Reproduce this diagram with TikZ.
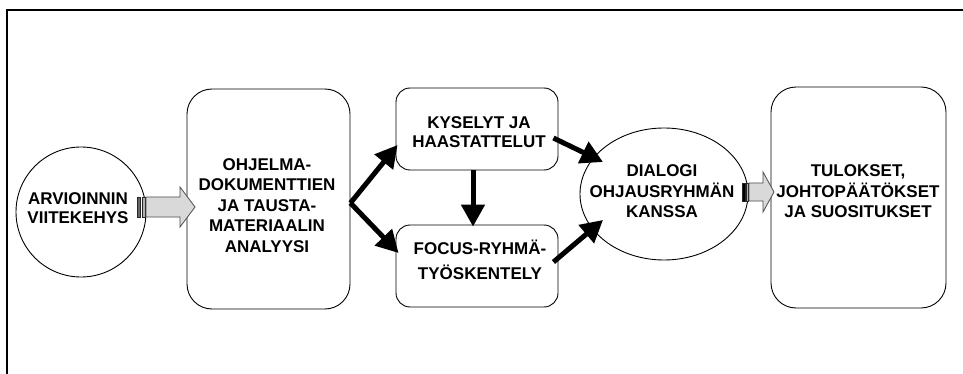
\documentclass[tikz,border=0pt]{standalone}
\usepackage{fontspec}
\setmainfont{Liberation Sans}
\usetikzlibrary{shapes.geometric,arrows.meta,calc}
\begin{document}
\begin{tikzpicture}[x=1pt,y=-1pt,
  shp/.style={draw=black,line width=0.9pt,inner sep=0pt},
  rbox/.style={shp,rectangle,rounded corners=#1},
  txt/.style={align=center,inner sep=0pt,font=\fontsize{17}{20.5}\selectfont\bfseries},
  bigarrow/.style={line width=5pt,-{Triangle[length=22pt,width=23pt]}},
  hollow/.style={fill=black!15,draw=black!70,line width=0.8pt},
  stripe/.style={fill=black!60,draw=black!85,line width=0.6pt}
]
\useasboundingbox (0,0) rectangle (963,374);
\draw[line width=2pt] (963,10) -- (7,10) -- (7,374);

% shapes
\node[shp,circle,minimum size=130pt] (frame) at (81,212) {};
\node[rbox=25pt,minimum width=163pt,minimum height=220pt] (anal) at (268.5,199) {};
\node[rbox=14pt,minimum width=162pt,minimum height=82pt] (kys) at (477,129) {};
\node[rbox=14pt,minimum width=162pt,minimum height=82pt] (foc) at (477,266) {};
\node[shp,ellipse,minimum width=168pt,minimum height=132pt] (dia) at (664,194) {};
\node[rbox=25pt,minimum width=175pt,minimum height=221pt] (res) at (858.5,197.5) {};

% texts
\node[txt,font=\fontsize{17}{18.3}\selectfont\bfseries] (t1) at (78,208) {ARVIOINNIN\\VIITEKEHYS};
\node[txt] (t2) at (267,205.5) {OHJELMA-\\DOKUMENTTIEN\\JA TAUSTA-\\MATERIAALIN\\ANALYYSI};
\node[txt,font=\fontsize{17}{19}\selectfont\bfseries] (t3) at (479,132.5) {KYSELYT JA\\HAASTATTELUT};
\node[txt,font=\fontsize{17}{25}\selectfont\bfseries] (t4) at (480,259.5) {FOCUS-RYHMÄ-\\TYÖSKENTELY};
\node[txt] (t5) at (662,191.5) {DIALOGI\\OHJAUSRYHMÄN\\KANSSA};
\node[txt] (t6) at (858,191.5) {TULOKSET,\\JOHTOPÄÄTÖKSET\\JA SUOSITUKSET};

% striped block arrows
\draw[stripe] (137,197) rectangle (140,217);
\draw[stripe,fill=black!30] (142.5,197) rectangle (145,217);
\draw[hollow] (146,197) -- (180,197) -- (180,187) -- (195,207) -- (180,227) -- (180,217) -- (146,217) -- cycle;

\draw[stripe,fill=black] (742,183) rectangle (745,201);
\draw[stripe,fill=black!30] (746.5,183) rectangle (748.5,201);
\draw[hollow] (749,183) -- (763,183) -- (763,172) -- (774,192) -- (763,212) -- (763,201) -- (749,201) -- cycle;

% black arrows
\coordinate (br) at ($(anal.east)+(0,4)$);
\draw[bigarrow] (br) -- ($(kys.west)+(2,16)$);
\draw[bigarrow] (br) -- ($(foc.west)+(3,-13)$);
\draw[bigarrow] ($(kys.south)+(-4,0)$) -- ($(foc.north)+(-4,2)$);
\draw[bigarrow] ($(kys.east)+(-5,9)$) -- ($(dia.center)+(-61,-32)$);
\draw[bigarrow] ($(foc.east)+(-5,-4)$) -- ($(dia.center)+(-61,26)$);
\end{tikzpicture}
\end{document}
